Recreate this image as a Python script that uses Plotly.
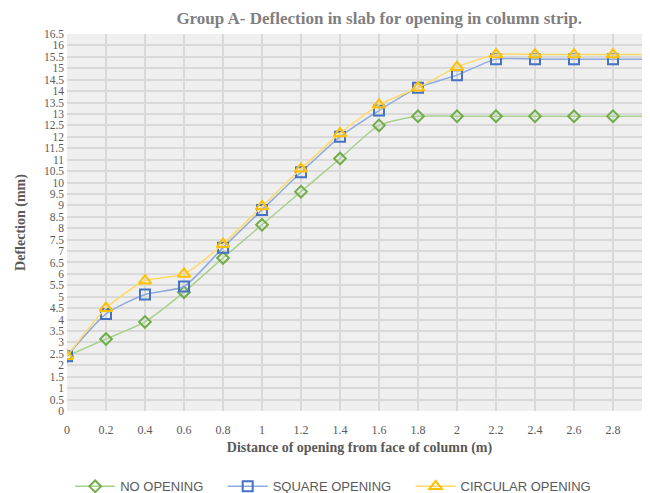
import plotly.graph_objects as go

# distance of opening from face of column (m)
distance = [0, 0.2, 0.4, 0.6, 0.8, 1.0, 1.2, 1.4, 1.6, 1.8, 2.0, 2.2, 2.4, 2.6, 2.8, 3.0]

# deflection (mm)
no_opening = [2.4, 3.15, 3.9, 5.2, 6.7, 8.15, 9.6, 11.05, 12.5, 12.9, 12.9, 12.9, 12.9, 12.9, 12.9, 12.9]
square_opening = [2.4, 4.25, 5.1, 5.45, 7.15, 8.8, 10.45, 12.0, 13.15, 14.15, 14.7, 15.4, 15.4, 15.4, 15.4, 15.4]
circular_opening = [2.4, 4.5, 5.7, 6.0, 7.3, 8.95, 10.6, 12.15, 13.4, 14.15, 15.05, 15.6, 15.6, 15.6, 15.6, 15.6]

x_ticks = [round(i * 0.2, 1) for i in range(15)]
x_labels = ["0", "0.2", "0.4", "0.6", "0.8", "1", "1.2", "1.4", "1.6", "1.8", "2", "2.2", "2.4", "2.6", "2.8"]
y_ticks = [i * 0.5 for i in range(34)]
y_labels = [("%g" % v) for v in y_ticks]

pad = "\u00a0" * 4  # extra gap between legend entries
series = [
    ("NO OPENING" + pad, no_opening, "#70ad47", "#a9d18e", "diamond-open", 9),
    ("SQUARE OPENING" + pad, square_opening, "#4472c4", "#8faadc", "square-open", 10),
    ("CIRCULAR OPENING", circular_opening, "#ffc000", "#ffd966", "triangle-up-open", 11),
]

fig = go.Figure()
for name, vals, mcol, lcol, sym, size in series:
    fig.add_trace(go.Scatter(
        x=distance, y=vals, name=name, mode="lines+markers",
        line=dict(color=lcol, width=1.5, shape="spline", smoothing=0.6),
        marker=dict(symbol=sym, size=size, color=mcol, line=dict(color=mcol, width=2)),
    ))

# the page body adds an 8px offset, so margins are shifted to compensate
serif = "Liberation Serif, Times New Roman, serif"
fig.update_layout(
    width=650, height=493,
    margin=dict(l=59, r=6, t=26, b=90, autoexpand=False),
    paper_bgcolor="white",
    plot_bgcolor="#efefef",
    title=dict(text="<b>Group A- Deflection in slab for opening in column strip.</b>",
               x=0.571, xanchor="center", y=0.98, yanchor="middle",
               font=dict(family=serif, size=17, color="#7f7f7f")),
    xaxis=dict(range=[0, 3.0], tickvals=x_ticks, ticktext=x_labels, automargin=False,
               showgrid=True, gridcolor="#d9d9d9", gridwidth=2, zeroline=False,
               tickfont=dict(family=serif, size=12, color="#595959"), ticks="",
               ticklabelstandoff=10,
               title=dict(text="<b>Distance of opening from face of column (m)</b>",
                          font=dict(family=serif, size=14, color="#595959"), standoff=6)),
    yaxis=dict(range=[0, 16.5], tickvals=y_ticks, ticktext=y_labels, automargin=False,
               showgrid=True, gridcolor="#d9d9d9", gridwidth=2, zeroline=False,
               tickfont=dict(family=serif, size=11.5, color="#595959"), ticks="",
               ticklabelstandoff=2,
               title=dict(text="<b>Deflection (mm)</b>",
                          font=dict(family=serif, size=14, color="#595959"), standoff=14)),
    legend=dict(orientation="h", x=0.455, xanchor="center", y=-0.2, yanchor="middle",
                font=dict(family="Liberation Sans Narrow, Liberation Sans, sans-serif", size=13, color="#595959"),
                itemwidth=40),
)

fig.write_html("out.html")
